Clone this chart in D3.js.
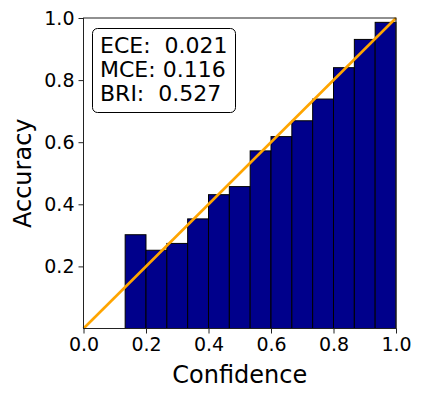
<!DOCTYPE html>
<html>
<head>
<meta charset="utf-8">
<script src="https://cdn.jsdelivr.net/npm/d3@7"></script>
<style>
  body { margin: 0; background: #fff; }
  text { font-family: "DejaVu Sans", sans-serif; fill: #000; }
</style>
</head>
<body>
<svg width="423" height="399"></svg>
<script>
// bin edges (15 bins), first two bins are empty
var binStarts = [0.1333, 0.2, 0.2667, 0.3333, 0.4, 0.4667, 0.5333, 0.6, 0.6667, 0.7333, 0.8, 0.8667, 0.9333];
var binWidth = 1 / 15;
var accuracy = [0.302, 0.252, 0.274, 0.353, 0.431, 0.457, 0.572, 0.618, 0.669, 0.739, 0.840, 0.931, 0.986];
var xTicks = [0, 0.2, 0.4, 0.6, 0.8, 1.0];
var yTicks = [0.2, 0.4, 0.6, 0.8, 1.0];
var metricLines = ['ECE:  0.021', 'MCE: 0.116', 'BRI:  0.527'];

var svg = d3.select('svg');

var xScale = d3.scaleLinear().domain([0, 1]).range([83.5, 396]);
var yScale = d3.scaleLinear().domain([0, 1]).range([328.5, 18]);

// bars
svg.append('g')
    .selectAll('rect')
    .data(accuracy)
    .enter()
    .append('rect')
        .attr('x', function(d, i) { return xScale(binStarts[i]); })
        .attr('y', function(d) { return yScale(d); })
        .attr('width', function(d, i) { return xScale(binStarts[i] + binWidth) - xScale(binStarts[i]); })
        .attr('height', function(d) { return yScale(0) - yScale(d); })
        .attr('fill', '#00008b')
        .attr('stroke', '#000')
        .attr('stroke-width', 1);

// perfect calibration line
svg.append('line')
    .attr('x1', xScale(0)).attr('y1', yScale(0))
    .attr('x2', xScale(1)).attr('y2', yScale(1))
    .attr('stroke', '#ffa500')
    .attr('stroke-width', 2.6);

// axes
var xAxis = d3.axisBottom(xScale).tickValues(xTicks).tickFormat(d3.format('.1f')).tickSize(5).tickPadding(4);
var yAxis = d3.axisLeft(yScale).tickValues(yTicks).tickFormat(d3.format('.1f')).tickSize(5).tickPadding(4);

var gx = svg.append('g')
    .attr('transform', 'translate(0,' + yScale(0) + ')')
    .call(xAxis);
var gy = svg.append('g')
    .attr('transform', 'translate(' + xScale(0) + ',0)')
    .call(yAxis);

[gx, gy].forEach(function(g) {
    g.select('.domain').remove();
    g.selectAll('.tick line').attr('stroke', '#222').attr('stroke-width', 1);
    g.selectAll('.tick text').style('font-size', '19px').attr('fill', '#000');
});

// frame
svg.append('rect')
    .attr('x', xScale(0)).attr('y', yScale(1))
    .attr('width', xScale(1) - xScale(0))
    .attr('height', yScale(0) - yScale(1))
    .attr('fill', 'none')
    .attr('stroke', '#222')
    .attr('stroke-width', 1);

// axis labels
svg.append('text')
    .attr('x', (xScale(0) + xScale(1)) / 2)
    .attr('y', 383)
    .attr('text-anchor', 'middle')
    .style('font-size', '24px')
    .text('Confidence');

svg.append('text')
    .attr('transform', 'translate(31,' + (yScale(0) + yScale(1)) / 2 + ') rotate(-90)')
    .attr('text-anchor', 'middle')
    .style('font-size', '24px')
    .text('Accuracy');

// metrics box
svg.append('rect')
    .attr('x', 92.5).attr('y', 28.5)
    .attr('width', 143).attr('height', 84)
    .attr('rx', 5).attr('ry', 5)
    .attr('fill', '#fff')
    .attr('stroke', '#000')
    .attr('stroke-width', 1);

svg.append('g')
    .selectAll('text')
    .data(metricLines)
    .enter()
    .append('text')
        .attr('x', 100)
        .attr('y', function(d, i) { return 52.5 + i * 24.2; })
        .style('font-size', '22px')
        .style('white-space', 'pre')
        .attr('xml:space', 'preserve')
        .text(function(d) { return d; });
</script>
</body>
</html>
